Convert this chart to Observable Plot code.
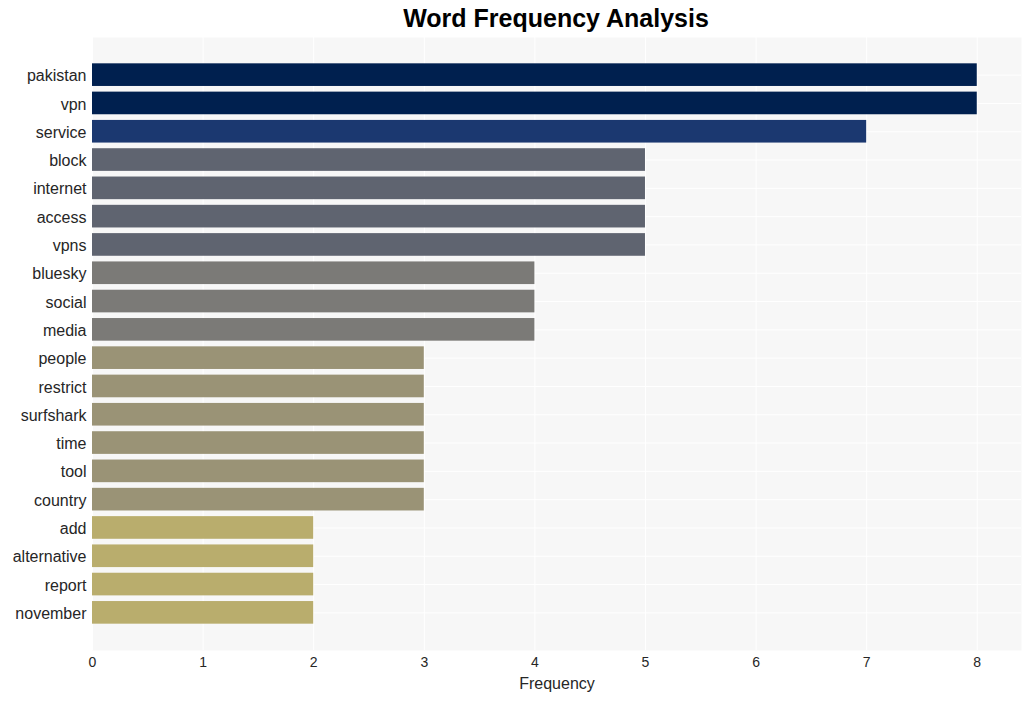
<!DOCTYPE html>
<html>
<head>
<meta charset="utf-8">
<script src="https://cdn.jsdelivr.net/npm/d3@7"></script>
<script src="https://cdn.jsdelivr.net/npm/@observablehq/plot@0.6"></script>
<style>
  html, body { margin: 0; padding: 0; background: #ffffff; }
  body { width: 1031px; height: 701px; overflow: hidden; font-family: "Liberation Sans", Arial, sans-serif; }
  #title { height: 37px; width: 1031px; position: relative; }
  #title span { position: absolute; left: 556px; top: 5px; transform: translateX(-50%); font-size: 25px; font-weight: bold; color: #000; white-space: nowrap; line-height: 1.1; }
</style>
</head>
<body>
<div id="title"><span>Word Frequency Analysis</span></div>
<div id="chart"></div>
<script>
const words = ["pakistan","vpn","service","block","internet","access","vpns","bluesky","social","media","people","restrict","surfshark","time","tool","country","add","alternative","report","november"];
const counts = [8,8,7,5,5,5,5,4,4,4,3,3,3,3,3,3,2,2,2,2];
const colorValues = [8,7,5,4,3,2];
const colorRange = ["#00204f","#1b3870","#5f6470","#7b7a77","#9a9376","#b9ad6d"];
const xTicks = [0,1,2,3,4,5,6,7,8];

const data = words.map((w, i) => ({word: w, count: counts[i]}));

const chart = Plot.plot({
  width: 1031,
  height: 664,
  marginTop: 0,
  marginBottom: 51,
  marginLeft: 92,
  marginRight: 10,
  style: {fontFamily: "'Liberation Sans', Arial, sans-serif", fontSize: "16px", background: "transparent"},
  x: {domain: [0, 8.4], ticks: xTicks, label: null},
  y: {domain: words, padding: 0.2, paddingOuter: 0.93, round: false, label: null},
  color: {type: "ordinal", domain: colorValues, range: colorRange},
  marks: [
    Plot.frame({fill: "#f7f7f7", stroke: null}),
    Plot.gridX(xTicks, {stroke: "#ffffff", strokeOpacity: 1, strokeWidth: 1}),
    Plot.gridY(words, {stroke: "#ffffff", strokeOpacity: 1, strokeWidth: 1}),
    Plot.barX(data, {x: "count", y: "word", fill: d => d.count}),
    Plot.axisX(xTicks, {tickSize: 0, tickPadding: 7, fontSize: 14, fill: "#262626", label: null}),
    Plot.text(["Frequency"], {frameAnchor: "bottom", dy: 38, fontSize: 16, fill: "#262626"}),
    Plot.axisY(words, {tickSize: 0, tickPadding: 6, dy: 1, fontSize: 16, fill: "#262626", label: null})
  ]
});
document.getElementById("chart").appendChild(chart);
</script>
</body>
</html>
